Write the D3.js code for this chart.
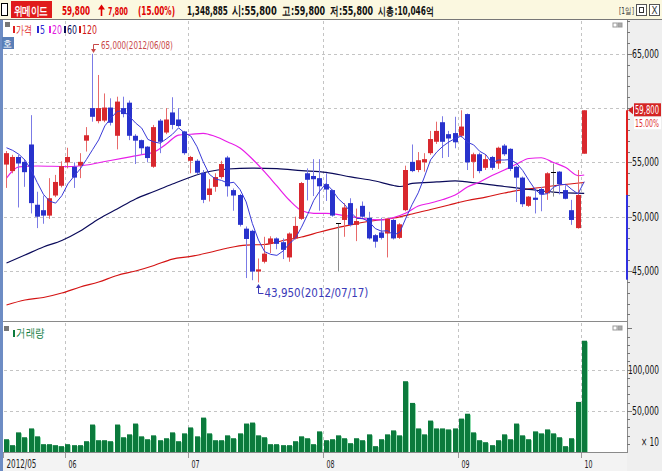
<!DOCTYPE html>
<html><head><meta charset="utf-8">
<script src="https://cdn.jsdelivr.net/npm/d3@7"></script>
<style>
body{margin:0;background:#fff;overflow:hidden}
svg{display:block}
text{font-family:"DejaVu Sans Condensed","Liberation Sans",sans-serif}
</style></head><body>
<svg id="c" width="662" height="471"></svg>
<script>
// ---------------- DATA ----------------
const monthLabels = ["2012/05","06","07","08","09","10"];
const monthStartIdx = [0,10,30,52,74,94];
const priceTicks = [45000,50000,55000,65000];
const priceGrid = [45000,50000,55000,60000,65000];
const volTicks = [50000,100000];
const volTickLabels = ["50,000","100,000"];

const opens = [54800,54200,55500,55050,56650,51100,50600,50100,51950,52850,
55000,54600,54700,57000,60000,58800,58850,60050,57450,60000,
60500,57450,57050,56450,54600,58850,57750,59600,58950,57850,
55150,55150,54050,52000,52750,53650,55450,52450,52000,48900,
48700,44950,45850,47500,48000,47650,46250,48000,49800,54000,
53750,53550,53000,52450,49400,49700,51250,49250,51000,49900,
48300,48550,48450,49700,48050,50600,55050,54300,55000,55850,
56900,58700,57600,57700,57450,59450,55050,55750,54500,55500,
54900,56550,56250,54600,53600,51000,51750,52550,52150,54150,
54150,52450,50600,48950,55800];
const highs = [56050,55700,55700,55300,59350,52300,51950,53550,53850,55100,
56350,55000,55850,58250,65000,63050,61350,60900,61050,61050,
60700,57600,57100,56500,58450,59000,60000,61000,60000,57900,
55600,55300,54300,53450,54000,55150,55600,52600,52100,49100,
48800,46150,48150,48200,48100,48000,48550,50000,53200,54450,
55300,55300,54000,52500,49400,51250,51700,50750,51400,50450,
48400,49900,49900,49800,49400,54700,56650,55950,55850,57900,
58750,59250,57900,59200,59800,59500,55900,55900,55700,55600,
56450,56700,56300,54700,53700,51900,52600,52750,54100,54900,
54200,52900,51550,54300,59800];
const lows = [52650,54000,50850,52750,50300,48950,49350,49800,51800,52700,
54450,52650,53550,56000,58750,58600,58700,58400,56200,59150,
57050,54850,55700,55000,54500,55850,57600,58050,58250,55700,
54000,53900,51250,51400,52300,53500,51850,50550,49100,44350,
44150,43950,45700,46650,47000,46100,45850,47900,49700,51500,
51900,50550,51450,50000,44950,48150,49100,47750,49900,47900,
47150,47900,46250,47900,47950,50500,54100,54100,54150,55700,
56700,55400,55500,56300,57300,54300,53550,54000,54300,54300,
54400,55600,54200,51350,50900,50900,50300,50500,51550,51850,
52050,51600,49250,48900,55800];
const closes = [55850,55500,54900,54100,51250,50000,50100,51700,53200,54650,
55500,53600,55050,57500,59200,60000,60050,58650,60600,59450,
57450,57000,56300,55400,58250,56900,58950,58450,58350,55850,
55500,54050,51550,52600,53650,54850,52800,51950,49250,47950,
44950,45150,46600,48000,47500,46950,48450,49150,53100,53400,
53450,52800,52500,50100,49400,50850,49250,49600,50000,48000,
47700,48050,49800,48000,49300,54300,54200,55200,55300,57150,
57900,56900,57200,56850,58300,55000,55750,54200,55300,54500,
56350,55750,54400,53600,51150,51850,51550,52050,54000,54150,
53000,51650,49700,52000,59800];
const volumes = [15500,8300,23800,17900,28600,19000,9500,9500,8300,7100,
9500,8300,8300,13100,33300,14300,14300,13100,33300,17900,
21400,34500,19000,15500,20200,14300,16700,23800,13100,22600,
29800,19000,41700,22600,14300,14300,20200,16700,22600,34500,
35700,20200,17900,9500,9500,8300,8300,13100,19000,16700,
9500,25000,14300,15500,20200,16700,10700,16700,14300,21400,
7100,15500,21400,26200,20200,85800,59500,28600,21400,38100,
28600,28600,27400,28600,40500,46400,23800,14300,11900,8300,
14300,21400,15500,34500,20200,15500,25000,22600,27400,22600,
17900,7100,16700,60700,134889];
const ma5 = [56350,56110,55750,55220,54320,53150,52070,51430,51250,51930,
53030,53730,54400,55260,56170,57070,58360,59080,59700,59750,
59240,58630,58160,57120,56880,56770,57160,57590,58180,57700,
57420,56440,55060,53910,53470,53340,53090,53170,52500,51360,
49380,47850,46780,46530,46440,46840,47500,48010,49030,50210,
51510,52380,53050,52450,51650,51130,50420,49840,49820,49540,
48910,48670,48710,48310,48570,49890,51120,52200,53660,55230,
55950,56490,56890,57200,57430,56850,56620,56020,55710,54950,
55220,55220,55260,54920,54250,53350,52510,52040,52120,52720,
52950,52970,52500,52100,53230];
const ma20Idx = [0,2,5,10,13,16,19,22,24,26,28,30,32,34,36,38,40,42,44,46,48,50,52,55,58,61,63,65,67,69,71,73,75,77,79,81,83,85,87,89,91,93,94];
const ma20Val = [53560,54580,54670,54620,54760,55080,55400,55710,55960,56690,57520,57590,57680,57380,56880,56330,55310,54120,52830,51540,50570,50310,50310,50110,49830,49700,49930,50340,50990,51260,51580,52000,52730,53200,53790,54300,54850,55360,55430,54990,54530,53790,53840];
const ma60Idx = [0,3,6,9,12,15,18,21,24,27,30,33,36,40,44,48,52,56,60,63,64,66,70,73,77,81,85,89,94];
const ma60Val = [45740,46470,47210,47810,48680,49790,50710,51630,52320,53010,53660,54160,54390,54480,54420,54250,54090,53660,53290,52870,52780,53060,53200,53290,53060,52780,52520,52270,52150];
const ma120Idx = [0,3,6,9,12,15,18,21,24,27,30,33,36,39,42,45,48,51,54,57,60,63,66,69,72,75,78,81,84,87,90,94];
const ma120Val = [41870,42330,42560,42970,43530,43990,44590,45000,45510,46100,46340,46700,47120,47390,47440,47810,48130,48590,49010,49370,49650,49880,50250,50660,51080,51490,51810,52180,52500,52690,52920,53150];

// ---------------- DRAW ----------------
const W=662,H=471;
const svg=d3.select("#c");
const x=d3.scaleLinear().domain([0,94]).range([6.5,584.2]);
const step=x(1)-x(0);
const y=d3.scaleLinear().domain([45000,65000]).range([271,53.8]);
const yv=d3.scaleLinear().domain([0,100000]).range([452,369.5]);
const PL=4, PR=627, PT=21, PB=321, VT=323, VB=452;
const KR='"Noto Sans CJK KR",sans-serif';

// text helper: fits natural width to o.len by shrinking font, then stretches vertically back
function T(px,py,s,o={}){
  const size=o.size||11;
  const g=svg.append("g").attr("transform",`translate(${px},${py})`);
  const t=g.append("text").attr("x",0).attr("y",0).text(s)
    .attr("font-size",size).attr("fill",o.fill||"#000");
  if(o.family) t.attr("font-family",o.family);
  if(o.weight) t.attr("font-weight",o.weight);
  if(o.anchor) t.attr("text-anchor",o.anchor);
  if(o.len){
    const L=t.node().getComputedTextLength();
    if(L>0){
      const ns=Math.min(size*1.1,size*o.len/L);
      t.attr("font-size",ns);
      const ky=Math.min(o.kmax||1.4,Math.max(1,size/ns));
      if(ky>1.001) t.attr("transform",`scale(1,${ky.toFixed(3)})`);
    }
  }
  return t;
}

svg.append("rect").attr("width",W).attr("height",H).attr("fill","#fff");
svg.append("rect").attr("x",PR).attr("y",20).attr("width",W-PR).attr("height",H-20).attr("fill","#efefef");
svg.append("rect").attr("x",0).attr("y",VB+1).attr("width",PR).attr("height",H-VB-1).attr("fill","#f3f3f3");
svg.append("rect").attr("x",0).attr("y",20).attr("width",3).attr("height",H-20).attr("fill","#6d8cc4");

const defs=svg.append("defs");
defs.append("clipPath").attr("id","clipP").append("rect").attr("x",PL).attr("y",PT).attr("width",PR-PL).attr("height",PB-PT);
defs.append("clipPath").attr("id","clipV").append("rect").attr("x",PL).attr("y",VT).attr("width",PR-PL).attr("height",VB-VT);

// grid
const grid=svg.append("g").attr("stroke","#c4c4c4").attr("stroke-dasharray","3,3").attr("stroke-width",1);
priceGrid.forEach(v=>{const yy=Math.round(y(v))+0.5;grid.append("line").attr("x1",PL).attr("x2",PR).attr("y1",yy).attr("y2",yy);});
volTicks.forEach(v=>{const yy=Math.round(yv(v))+0.5;grid.append("line").attr("x1",PL).attr("x2",PR).attr("y1",yy).attr("y2",yy);});
monthStartIdx.slice(1).forEach(i=>{const xx=Math.round(x(i)-step/2)+0.5;
  grid.append("line").attr("x1",xx).attr("x2",xx).attr("y1",PT).attr("y2",PB);
  grid.append("line").attr("x1",xx).attr("x2",xx).attr("y1",VT).attr("y2",VB);});

// panel borders
svg.append("line").attr("x1",3).attr("x2",PR).attr("y1",321.5).attr("y2",321.5).attr("stroke","#8a8a8a");
svg.append("line").attr("x1",3).attr("x2",PR).attr("y1",VB+0.5).attr("y2",VB+0.5).attr("stroke","#8a8a8a");
svg.append("line").attr("x1",PR+0.5).attr("x2",PR+0.5).attr("y1",20).attr("y2",VB+1).attr("stroke","#8a8a8a");

// MA lines
const gp=svg.append("g").attr("clip-path","url(#clipP)");
const line=d3.line().x(d=>x(d[0])).y(d=>y(d[1])).curve(d3.curveMonotoneX);
gp.append("path").datum(ma120Idx.map((k,j)=>[k,ma120Val[j]])).attr("d",line).attr("fill","none").attr("stroke","#d41414").attr("stroke-width",1.2);
gp.append("path").datum(ma60Idx.map((k,j)=>[k,ma60Val[j]])).attr("d",line).attr("fill","none").attr("stroke","#0a0a5a").attr("stroke-width",1.2);
gp.append("path").datum(ma20Idx.map((k,j)=>[k,ma20Val[j]])).attr("d",line).attr("fill","none").attr("stroke","#e81ee8").attr("stroke-width",1.2);

// candles
const candles=d3.range(opens.length).map(i=>({i,o:opens[i],h:highs[i],l:lows[i],c:closes[i]}));
const cx=d=>Math.floor(x(d.i));
const col=d=>d.c>d.o?"up":(d.c<d.o?"dn":"eq");
const wickC={up:"#e86a6a",dn:"#7b7be6",eq:"#8a8a8a"};
const bodyC={up:"#d8282e",dn:"#2832cc",eq:"#000"};
gp.selectAll("line.wick").data(candles).join("line").attr("class","wick")
  .attr("x1",d=>cx(d)+0.5).attr("x2",d=>cx(d)+0.5)
  .attr("y1",d=>y(d.h)).attr("y2",d=>y(d.l)).attr("stroke",d=>wickC[col(d)]).attr("stroke-width",1);
gp.selectAll("rect.body").data(candles).join("rect").attr("class","body")
  .attr("x",d=>cx(d)-2).attr("width",5)
  .attr("y",d=>col(d)==="eq"?Math.round(y(d.o)):y(Math.max(d.o,d.c)))
  .attr("height",d=>col(d)==="eq"?1:Math.max(1,Math.abs(y(d.o)-y(d.c))))
  .attr("fill",d=>bodyC[col(d)]);

// MA5 on top
gp.append("path").datum(ma5.map((v,k)=>[k,v])).attr("d",d3.line().x(d=>x(d[0])).y(d=>y(d[1]))).attr("fill","none").attr("stroke","#3a3ad8").attr("stroke-width",1);

// volume bars
const gv=svg.append("g").attr("clip-path","url(#clipV)");
gv.selectAll("rect.v").data(volumes).join("rect").attr("class","v")
  .attr("x",(d,i)=>Math.floor(x(i))-2).attr("width",5)
  .attr("y",d=>yv(d)).attr("height",d=>VB-yv(d)).attr("fill","#0b7a3c");
gv.selectAll("rect.v2").data(volumes).join("rect").attr("class","v2")
  .attr("x",(d,i)=>Math.floor(x(i))+3).attr("width",1)
  .attr("y",d=>yv(d)+1).attr("height",d=>VB-yv(d)-1).attr("fill","#8fdcae");

// right axes
const ax=svg.append("g");
for(let v=41000;v<=68000;v+=1000){const yy=Math.round(y(v))+0.5; if(yy<PT||yy>PB)continue;
  ax.append("line").attr("x1",PR).attr("x2",PR+(v%5000===0?5:3)).attr("y1",yy).attr("y2",yy).attr("stroke","#777");}
for(let v=10000;v<=150000;v+=10000){const yy=Math.round(yv(v))+0.5; if(yy<VT)continue;
  ax.append("line").attr("x1",PR).attr("x2",PR+(v%50000===0?5:3)).attr("y1",yy).attr("y2",yy).attr("stroke","#777");}
ax.append("rect").attr("x",PR-1).attr("y",y(59800)).attr("width",2).attr("height",y(52000)-y(59800)).attr("fill","#e02020");
ax.append("rect").attr("x",PR-1).attr("y",y(52000)).attr("width",2).attr("height",y(44200)-y(52000)).attr("fill","#3030e0");
priceTicks.forEach(v=>T(659,y(v)+4,d3.format(",")(v),{size:12,anchor:"end",len:27,fill:"#111",kmax:1.5}));
volTicks.forEach((v,j)=>T(659,yv(v)+4,volTickLabels[j],{size:12,anchor:"end",len:volTickLabels[j].length>6?31:27,fill:"#111",kmax:1.5}));
T(659,446,"× 10",{size:12,anchor:"end",fill:"#111",len:18});

// current price marker
const yc=y(59800);
ax.append("path").attr("d",`M${PR+1},${yc} L${PR+6},${yc-4} L${PR+6},${yc+4} Z`).attr("fill","#d02020");
ax.append("rect").attr("x",634).attr("y",yc-7).attr("width",27).attr("height",13).attr("fill","#d42424");
T(659,yc+4,"59,800",{size:12,anchor:"end",len:24,fill:"#fff",kmax:1.5});
ax.append("rect").attr("x",634).attr("y",yc+7).attr("width",27).attr("height",12).attr("fill","#fff");
T(659,yc+17,"15.00%",{size:11,anchor:"end",len:24,fill:"#e03030",kmax:1.5});

// x axis
monthStartIdx.forEach((i,j)=>{const xx=Math.round(x(i)-step/2)+0.5;
  svg.append("line").attr("x1",xx).attr("x2",xx).attr("y1",VB+1).attr("y2",VB+6).attr("stroke","#999");
  T(xx+3,468,monthLabels[j],{size:12,fill:"#222",len:monthLabels[j].length>2?30:8,kmax:1.5});});

// annotations
svg.append("path").attr("d",`M99,44.5 H93.5 V51`).attr("stroke","#c84848").attr("fill","none");
svg.append("path").attr("d",`M91,49 L96,49 L93.5,53 Z`).attr("fill","#c84848");
T(101,49,"65,000(2012/06/08)",{size:11,fill:"#c84848",len:72,kmax:1.5});
const lx=Math.floor(x(41))+0.5;
svg.append("path").attr("d",`M${lx},286 V293.5 H${lx+5}`).attr("stroke","#3a3ab8").attr("fill","none");
svg.append("path").attr("d",`M${lx-2.5},288 L${lx+2.5},288 L${lx},284 Z`).attr("fill","#3a3ab8");
T(lx+6,297,"43,950(2012/07/17)",{size:11,fill:"#3a3ab8",len:104});

// legends
svg.append("rect").attr("x",5).attr("y",22).attr("width",5).attr("height",5).attr("fill","#777");
const leg=[["가격","#e02020",13,16,16],["5","#2a2ad0",37,40,5],["20","#e020e0",49,52,10],["60","#0a0a5a",64,67,10],["120","#d01818",79,82,15]];
leg.forEach(([s,c,bx,tx,l])=>{svg.append("rect").attr("x",bx).attr("y",26).attr("width",2).attr("height",7).attr("fill",c);
  T(tx,34,s,{size:12,fill:c,len:l,family:s==="가격"?KR:null,kmax:1.6});});
svg.append("rect").attr("x",2).attr("y",37).attr("width",12).attr("height",12).attr("fill","#5a7fb8");
T(3,47,"호",{size:10,fill:"#fff",family:KR,len:9});
svg.append("rect").attr("x",4).attr("y",326).attr("width",5).attr("height",5).attr("fill","#777");
svg.append("rect").attr("x",13).attr("y",330).attr("width",2).attr("height",7).attr("fill","#0b7a3c");
T(16,337,"거래량",{size:12,fill:"#0b7a3c",len:28,family:KR,kmax:1.5});
[[613,23],[613,326]].forEach(([bx,by])=>{
  svg.append("rect").attr("x",bx).attr("y",by).attr("width",4).attr("height",4).attr("fill","none").attr("stroke","#999");
  svg.append("rect").attr("x",bx+5).attr("y",by).attr("width",4).attr("height",4).attr("fill","#aaa").attr("stroke","#999");});

// header
svg.append("rect").attr("x",0).attr("y",0).attr("width",W).attr("height",20).attr("fill","#fbf8e0");
svg.append("line").attr("x1",0).attr("x2",W).attr("y1",19.5).attr("y2",19.5).attr("stroke","#777");
svg.append("rect").attr("x",1.5).attr("y",3.5).attr("width",6).attr("height",12).attr("fill","#fff").attr("stroke","#000");
svg.append("rect").attr("x",11).attr("y",1).attr("width",41).attr("height",17).attr("fill","#e01b1b");
T(14,14.5,"위메이드",{size:12,fill:"#fff",family:KR,len:35,weight:"bold"});
const hdr={size:14,kmax:1.6,weight:"bold"};
T(62,15,"59,800",{...hdr,fill:"#e00000",len:28});
svg.append("path").attr("d","M101.5,16 V8").attr("stroke","#e00000").attr("stroke-width",1.6);
svg.append("path").attr("d","M98,9.5 L105,9.5 L101.5,4.5 Z").attr("fill","#e00000");
T(108,15,"7,800",{...hdr,fill:"#e00000",len:20});
T(138,15,"(15.00%)",{...hdr,fill:"#e00000",len:37});
T(187,15,"1,348,885",{...hdr,fill:"#111",len:41});
T(232,15,"시:55,800",{size:13,kmax:1.4,fill:"#111",len:45,family:KR,weight:"bold"});
T(282,15,"고:59,800",{size:13,kmax:1.4,fill:"#111",len:43,family:KR,weight:"bold"});
T(330,15,"저:55,800",{size:13,kmax:1.4,fill:"#111",len:43,family:KR,weight:"bold"});
T(378,15,"시총:10,046억",{size:13,kmax:1.4,fill:"#111",len:56,family:KR,weight:"bold"});
T(619,14,"[1일]",{size:11,fill:"#333",family:KR,len:15});
svg.append("rect").attr("x",636.5).attr("y",4.5).attr("width",10).attr("height",11).attr("fill","#fff").attr("stroke","#555");
svg.append("rect").attr("x",639.5).attr("y",7.5).attr("width",4).attr("height",5).attr("fill","none").attr("stroke","#333");
svg.append("rect").attr("x",649.5).attr("y",4.5).attr("width",10).attr("height",11).attr("fill","#fff").attr("stroke","#555");
T(651.5,14,"X",{size:10,fill:"#333",len:6});
</script></body></html>
